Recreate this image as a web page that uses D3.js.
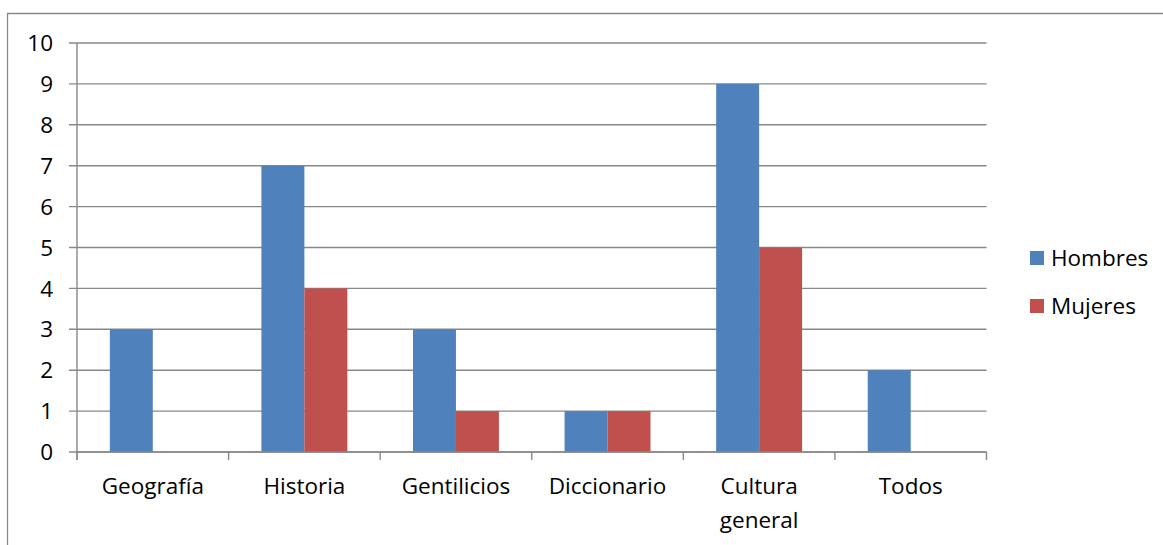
<!DOCTYPE html>
<html><head><meta charset="utf-8">
<script src="https://cdn.jsdelivr.net/npm/d3@7"></script>
<style>body{margin:0;background:#fff}svg{display:block}text{font-family:"Open Sans",sans-serif;fill:#000}</style>
</head><body>
<svg id="c" width="1163" height="545"></svg>
<script>
const categories = ["Geografía", "Historia", "Gentilicios", "Diccionario", "Cultura general", "Todos"];
const seriesNames = ["Hombres", "Mujeres"];
const hombres = [3, 7, 3, 1, 9, 2];
const mujeres = [0, 4, 1, 1, 5, 0];
const yTicks = [0,1,2,3,4,5,6,7,8,9,10];
const colors = ["#4F81BD", "#C0504D"];
const FS = 22.5;

const svg = d3.select("#c");
const L = 77, R = 986.5, T = 43, B = 452;
const x = d3.scaleBand().domain(categories).range([L, R]);
const y = d3.scaleLinear().domain([0, 10]).range([B, T]);
const inner = d3.scaleBand().domain(seriesNames).range([0, x.bandwidth()]).paddingOuter(0.7643).paddingInner(0);

// outer frame
svg.append("path").attr("d", "M7.5,545 V13.5 H1163").attr("fill","none").attr("stroke","#888").attr("stroke-width",1.3);

// gridlines
svg.append("g").selectAll("line").data(yTicks).join("line")
  .attr("x1", L - 8).attr("x2", R).attr("y1", d => y(d)).attr("y2", d => y(d))
  .attr("stroke", "#888").attr("stroke-width", 1.4);

// bars
const data = categories.map((c,i)=>({c, vals:[hombres[i], mujeres[i]]}));
const g = svg.append("g");
data.forEach(d => {
  d.vals.forEach((v,j) => {
    if (v <= 0) return;
    g.append("rect").attr("x", x(d.c) + inner(seriesNames[j])).attr("width", inner.bandwidth())
      .attr("y", y(v)).attr("height", y(0) - y(v)).attr("fill", colors[j]);
  });
});

// y axis line
svg.append("line").attr("x1", L).attr("x2", L).attr("y1", T).attr("y2", B + 8).attr("stroke","#888").attr("stroke-width",1.4);
// x axis ticks
const bounds = categories.map(c => x(c)).concat([R]);
svg.append("g").selectAll("line").data(bounds).join("line")
  .attr("x1", d=>d).attr("x2", d=>d).attr("y1", B).attr("y2", B + 8)
  .attr("stroke","#888").attr("stroke-width",1.4);
svg.append("line").attr("x1", L).attr("x2", R).attr("y1", B).attr("y2", B).attr("stroke","#888").attr("stroke-width",1.4);

// y labels
svg.append("g").selectAll("text").data(yTicks).join("text")
  .attr("x", 53).attr("y", d => y(d)).attr("dy", "0.36em").attr("text-anchor","end")
  .attr("font-size", FS).text(d => d);

// x labels
const xl = svg.append("g");
categories.forEach(c => {
  const words = c === "Cultura general" ? ["Cultura","general"] : [c];
  words.forEach((w,k) => {
    xl.append("text").attr("x", x(c) + x.bandwidth()/2).attr("y", 494 + k*34)
      .attr("text-anchor","middle").attr("font-size", FS).text(w);
  });
});

// legend
const lg = svg.append("g");
seriesNames.forEach((s,i) => {
  lg.append("rect").attr("x", 1030).attr("y", 251 + i*48).attr("width", 14).attr("height", 14).attr("fill", colors[i]);
  lg.append("text").attr("x", 1051).attr("y", 266 + i*48).attr("font-size", FS).text(s);
});
</script>
</body></html>
